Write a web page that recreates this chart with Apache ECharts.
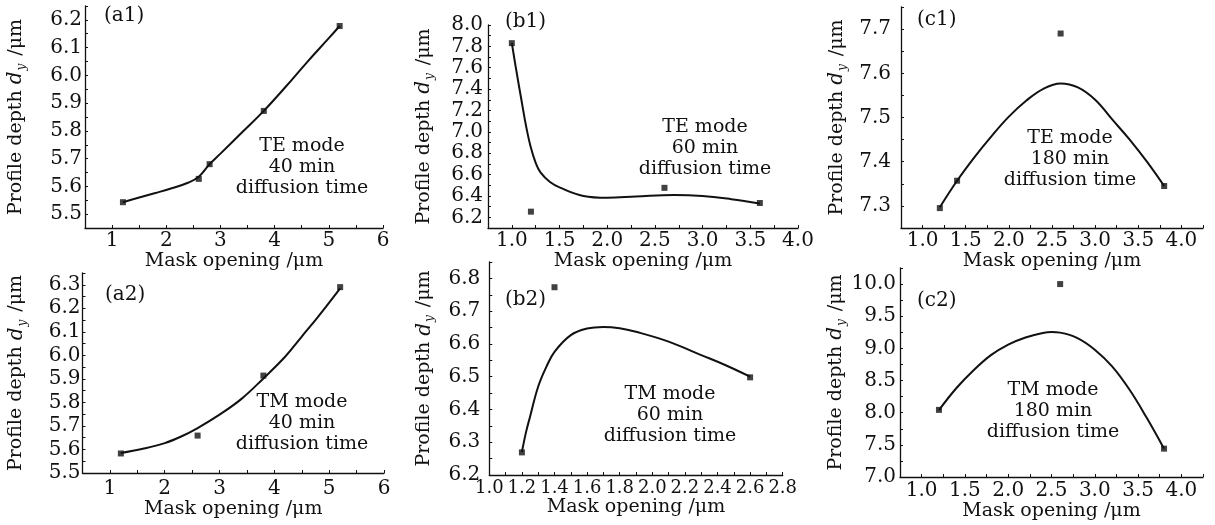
<!DOCTYPE html>
<html>
<head>
<meta charset="utf-8">
<title>Profile depth vs mask opening</title>
<script src="https://cdn.jsdelivr.net/npm/echarts@6/dist/echarts.min.js"></script>
<style>
  html, body { margin: 0; padding: 0; background: #fff; }
  #chart { width: 1215px; height: 525px; }
</style>
</head>
<body>
<div id="chart"></div>
<script>
// Measured profile depth (square markers) for each mask opening
const a1Mask = [1.2, 2.6, 2.8, 3.8, 5.2];
const a1Depth = [5.543, 5.627, 5.68, 5.872, 6.178];
const b1Mask = [1.0, 1.2, 2.6, 3.6];
const b1Depth = [7.83, 6.253, 6.476, 6.334];
const c1Mask = [1.2, 1.4, 2.6, 3.8];
const c1Depth = [7.295, 7.357, 7.69, 7.345];
const a2Mask = [1.2, 2.6, 3.8, 5.2];
const a2Depth = [5.583, 5.659, 5.914, 6.29];
const b2Mask = [1.2, 1.4, 2.6];
const b2Depth = [6.269, 6.773, 6.498];
const c2Mask = [1.2, 2.6, 3.8];
const c2Depth = [8.044, 10.0, 7.441];

// Fitted trend curves
const a1FitX = [1.2, 1.5, 1.8, 2.1, 2.4, 2.6, 2.8, 3.0, 3.4, 3.8, 4.2, 4.6, 5.0, 5.2];
const a1FitY = [5.543, 5.56, 5.576, 5.593, 5.613, 5.635, 5.68, 5.718, 5.795, 5.872, 5.958, 6.048, 6.134, 6.178];
const b1FitX = [1.0, 1.04, 1.1, 1.15, 1.2, 1.25, 1.3, 1.4, 1.5, 1.75, 2.0, 2.3, 2.7, 3.0, 3.3, 3.6];
const b1FitY = [7.83, 7.61, 7.30, 7.05, 6.85, 6.71, 6.62, 6.53, 6.48, 6.40, 6.383, 6.395, 6.41, 6.40, 6.37, 6.33];
const c1FitX = [1.2, 1.4, 1.6, 1.8, 2.0, 2.2, 2.4, 2.6, 2.8, 3.0, 3.2, 3.4, 3.6, 3.8];
const c1FitY = [7.297, 7.357, 7.41, 7.458, 7.502, 7.538, 7.565, 7.577, 7.568, 7.54, 7.495, 7.45, 7.4, 7.345];
const a2FitX = [1.2, 1.6, 2.0, 2.3, 2.6, 3.0, 3.4, 3.8, 4.2, 4.5, 4.8, 5.2];
const a2FitY = [5.585, 5.603, 5.627, 5.655, 5.691, 5.748, 5.815, 5.902, 5.995, 6.08, 6.165, 6.285];
const b2FitX = [1.2, 1.225, 1.25, 1.3, 1.35, 1.4, 1.5, 1.6, 1.7, 1.8, 1.9, 2.1, 2.3, 2.45, 2.6];
const b2FitY = [6.27, 6.33, 6.378, 6.47, 6.53, 6.576, 6.627, 6.647, 6.652, 6.648, 6.637, 6.607, 6.566, 6.535, 6.5];
const c2FitX = [1.2, 1.4, 1.6, 1.8, 2.0, 2.2, 2.4, 2.5, 2.6, 2.8, 3.0, 3.2, 3.4, 3.6, 3.8];
const c2FitY = [8.04, 8.38, 8.66, 8.895, 9.06, 9.17, 9.24, 9.255, 9.245, 9.16, 8.98, 8.72, 8.36, 7.92, 7.44];

// Axis ranges: [min, max, tick step, label step]
const xRanges = [
  [0.5, 6, 0.5, 1], [0.75, 4.0, 0.25, 0.5], [0.75, 4.25, 0.25, 0.5],
  [0.5, 6, 0.5, 1], [1.0, 2.8, 0.1, 0.2], [0.75, 4.25, 0.25, 0.5]
];
const yRanges = [
  [5.45, 6.25, 0.05, 0.1], [6.1, 8.0, 0.1, 0.2], [7.25, 7.75, 0.05, 0.1],
  [5.5, 6.35, 0.05, 0.1], [6.2, 6.85, 0.05, 0.1], [7.0, 10.25, 0.25, 0.5]
];
const xDecimals = [0, 1, 1, 0, 1, 1];

const panelLabels = ['(a1)', '(b1)', '(c1)', '(a2)', '(b2)', '(c2)'];
const notes = [
  'TE mode\n40 min\ndiffusion time',
  'TE mode\n60 min\ndiffusion time',
  'TE mode\n180 min\ndiffusion time',
  'TM mode\n40 min\ndiffusion time',
  'TM mode\n60 min\ndiffusion time',
  'TM mode\n180 min\ndiffusion time'
];
const xTitle = 'Mask opening /\u03bcm';

const pointSets = [
  [a1Mask, a1Depth], [b1Mask, b1Depth], [c1Mask, c1Depth],
  [a2Mask, a2Depth], [b2Mask, b2Depth], [c2Mask, c2Depth]
];
const fitSets = [
  [a1FitX, a1FitY], [b1FitX, b1FitY], [c1FitX, c1FitY],
  [a2FitX, a2FitY], [b2FitX, b2FitY], [c2FitX, c2FitY]
];

// Plot-area boxes (px)
const grids = [
  { left: 85, top: 6, width: 298, height: 222 },
  { left: 488, top: 25, width: 310, height: 203 },
  { left: 901, top: 7, width: 302, height: 221 },
  { left: 82.5, top: 273, width: 301.5, height: 200 },
  { left: 489.3, top: 262, width: 293.4, height: 213 },
  { left: 900, top: 268, width: 303, height: 209 }
];
const yNameGaps = [57, 52, 52, 54, 53, 52];
const yLabelMargins = [3, 5, 10, 2, 9, 4];
const xLabelMargins = [3, 3, 3, 6, 4, 4];
const xLabelSizes = [20, 20, 20, 20, 18, 20];
const xNameGaps = [19, 19, 19, 23, 22, 22];
const labelPos = [[104, 17], [505, 23], [917, 21], [105, 296], [505, 301], [917, 302]];
const notePos = [[302, 167], [705, 148], [1070, 159], [302, 423], [670, 415], [1053, 411]];

const FONT = '"DejaVu Serif", "Liberation Serif", serif';
const INK = '#111';

function onStep(v, step) {
  const r = v / step;
  return Math.abs(r - Math.round(r)) < 1e-6;
}

const option = {
  backgroundColor: '#fff',
  animation: false,
  grid: [],
  xAxis: [],
  yAxis: [],
  series: [],
  graphic: []
};

grids.forEach((g, i) => {
  option.grid.push(Object.assign({ containLabel: false }, g));
  const xr = xRanges[i], yr = yRanges[i];
  option.xAxis.push({
    type: 'value', gridIndex: i,
    min: xr[0], max: xr[1], interval: xr[2],
    name: xTitle, nameLocation: 'middle', nameGap: xNameGaps[i],
    nameTextStyle: { fontFamily: FONT, fontSize: 19, color: INK },
    axisLine: { show: true, lineStyle: { color: INK, width: 1.3 } },
    axisTick: { show: true, inside: true, length: 3, lineStyle: { color: INK, width: 1 } },
    splitLine: { show: false },
    axisLabel: {
      margin: xLabelMargins[i], fontFamily: FONT, fontSize: xLabelSizes[i], color: INK,
      showMinLabel: true, showMaxLabel: true,
      formatter: v => onStep(v, xr[3]) ? v.toFixed(xDecimals[i]) : ''
    }
  });
  option.yAxis.push({
    type: 'value', gridIndex: i,
    min: yr[0], max: yr[1], interval: yr[2],
    name: '{n|Profile depth }{d|d}{s|y}{n| /\u03bcm}',
    nameLocation: 'middle', nameGap: yNameGaps[i], nameRotate: 90,
    nameTextStyle: {
      fontFamily: FONT, fontSize: 19, color: INK,
      rich: {
        n: { fontFamily: FONT, fontSize: 19, color: INK, lineHeight: 24 },
        d: { fontFamily: FONT, fontSize: 20, fontStyle: 'italic', color: INK, lineHeight: 24 },
        s: { fontFamily: FONT, fontSize: 12, fontStyle: 'italic', color: INK, lineHeight: 24, verticalAlign: 'bottom', padding: [13, 2, 0, 1] }
      }
    },
    axisLine: { show: true, lineStyle: { color: INK, width: 1.3 } },
    axisTick: { show: true, inside: true, length: 3, lineStyle: { color: INK, width: 1 } },
    splitLine: { show: false },
    axisLabel: {
      margin: yLabelMargins[i], fontFamily: FONT, fontSize: 20, color: INK,
      formatter: v => onStep(v, yr[3]) ? v.toFixed(1) : ''
    }
  });

  const fit = fitSets[i];
  option.series.push({
    type: 'line', xAxisIndex: i, yAxisIndex: i,
    data: fit[0].map((x, k) => [x, fit[1][k]]),
    smooth: 0.4, showSymbol: false, symbol: 'none',
    lineStyle: { color: INK, width: 2 },
    z: 2
  });
  const pts = pointSets[i];
  option.series.push({
    type: 'scatter', xAxisIndex: i, yAxisIndex: i,
    data: pts[0].map((x, k) => [x, pts[1][k]]),
    symbol: 'rect', symbolSize: 6,
    itemStyle: { color: INK },
    z: 3
  });

  option.graphic.push({
    type: 'text', left: labelPos[i][0], top: labelPos[i][1] - 11,
    style: { text: panelLabels[i], font: '20px ' + FONT, fill: INK }
  });
  option.graphic.push({
    type: 'text', x: notePos[i][0], y: notePos[i][1],
    style: {
      text: notes[i], font: '19px ' + FONT, fill: INK,
      align: 'center', verticalAlign: 'middle', lineHeight: 21
    }
  });
});

const chart = echarts.init(document.getElementById('chart'), null, { renderer: 'canvas' });
chart.setOption(option);
</script>
</body>
</html>
